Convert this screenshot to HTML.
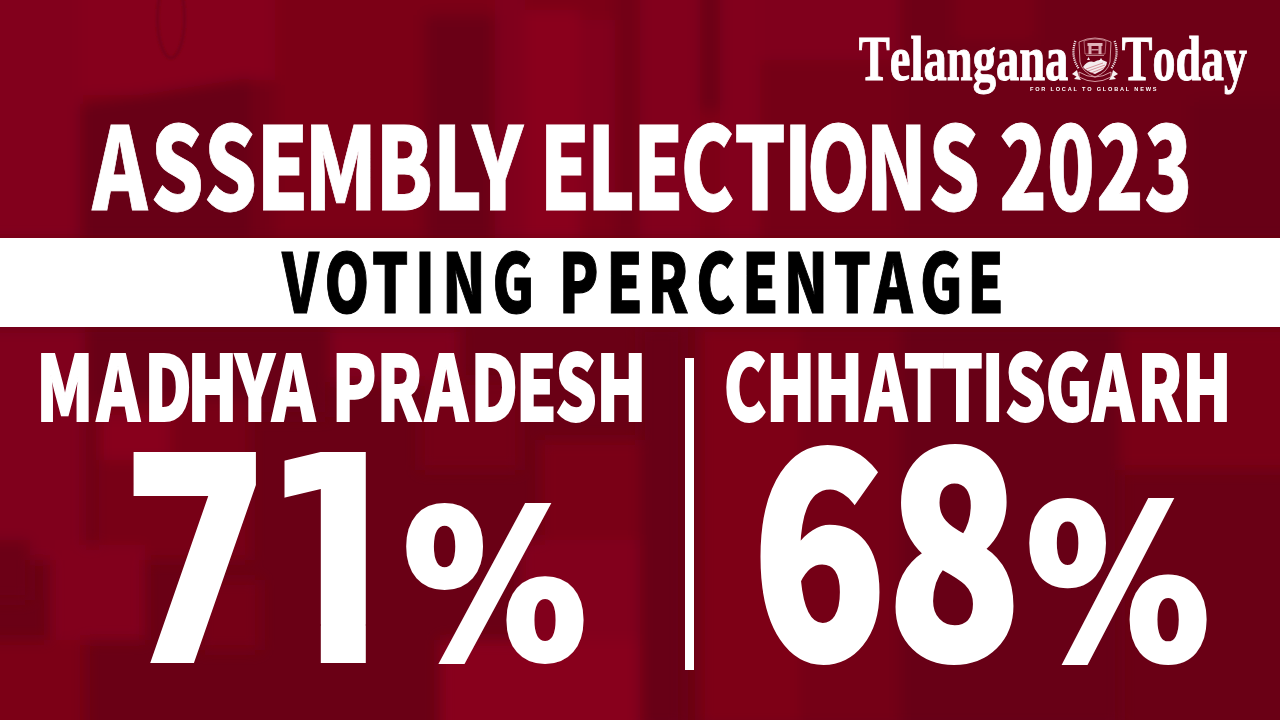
<!DOCTYPE html>
<html><head><meta charset="utf-8"><title>Assembly Elections 2023 - Voting Percentage</title>
<style>
html,body{margin:0;padding:0;background:#700012;}
body{width:1280px;height:720px;overflow:hidden;}
svg{display:block}
text{font-kerning:none;}
</style></head>
<body>
<svg width="1280" height="720" viewBox="0 0 1280 720">
<defs><filter id="bl" x="-5%" y="-5%" width="110%" height="110%"><feGaussianBlur stdDeviation="7"/></filter></defs>
<rect width="1280" height="720" fill="#6a0015"/>
<g filter="url(#bl)">
<rect x="-20" y="-20" width="940" height="260" fill="#7c0019"/>
<rect x="900" y="-20" width="400" height="260" fill="#6e0016"/>
<rect x="-20" y="-20" width="103" height="260" fill="#82001a"/>
<rect x="80" y="-20" width="195" height="115" fill="#86001b"/>
<path d="M80 105 L250 78 L250 240 L80 240 Z" fill="#680015"/>
<rect x="250" y="80" width="25" height="160" fill="#720017"/>
<rect x="275" y="20" width="150" height="220" fill="#7c0019"/>
<rect x="425" y="15" width="70" height="225" fill="#6a0015"/>
<rect x="495" y="-20" width="30" height="260" fill="#80001a"/>
<rect x="525" y="10" width="55" height="230" fill="#8a001c"/>
<rect x="580" y="20" width="35" height="180" fill="#82001a"/>
<rect x="615" y="-20" width="25" height="260" fill="#720017"/>
<rect x="640" y="-20" width="60" height="260" fill="#82001a"/>
<rect x="700" y="-20" width="20" height="130" fill="#6a0015"/>
<rect x="720" y="-20" width="40" height="260" fill="#82001a"/>
<rect x="760" y="-20" width="140" height="80" fill="#80001a"/>
<rect x="760" y="60" width="140" height="180" fill="#740017"/>
<rect x="955" y="-20" width="80" height="60" fill="#780018"/>
<rect x="1190" y="100" width="110" height="140" fill="#680015"/>
<rect x="-20" y="327" width="105" height="233" fill="#80001a"/>
<rect x="85" y="327" width="245" height="90" fill="#690015"/>
<rect x="95" y="400" width="155" height="160" fill="#780018"/>
<rect x="100" y="415" width="70" height="45" fill="#88001b"/>
<rect x="-20" y="540" width="50" height="60" fill="#6c0016"/>
<rect x="50" y="545" width="95" height="95" fill="#82001a"/>
<rect x="-20" y="640" width="105" height="100" fill="#7c0019"/>
<rect x="200" y="580" width="60" height="70" fill="#760018"/>
<rect x="330" y="327" width="130" height="55" fill="#80001a"/>
<rect x="420" y="380" width="100" height="90" fill="#740017"/>
<rect x="540" y="440" width="100" height="120" fill="#7a0018"/>
<rect x="520" y="540" width="120" height="100" fill="#82001a"/>
<rect x="440" y="640" width="200" height="100" fill="#88001b"/>
<rect x="640" y="327" width="43" height="400" fill="#680015"/>
<rect x="700" y="327" width="100" height="400" fill="#7e0019"/>
<rect x="800" y="327" width="100" height="400" fill="#740017"/>
<rect x="900" y="327" width="220" height="400" fill="#680015"/>
<rect x="1120" y="327" width="180" height="143" fill="#7a0018"/>
</g>
<filter id="bl2"><feGaussianBlur stdDeviation="1"/></filter>
<ellipse cx="171" cy="18" rx="13.5" ry="40" fill="none" stroke="#74001a" stroke-width="3" filter="url(#bl2)"/>

<rect x="0" y="238" width="1280" height="89" fill="#ffffff"/>
<rect x="685" y="358" width="9" height="312" fill="#ffffff"/>
<g fill="#ffffff">
<text x="858.8" y="79.6" textLength="209.6" lengthAdjust="spacingAndGlyphs" stroke="#fff" stroke-width="1" style="font-family:'Liberation Serif',serif;font-weight:700;font-size:63px">Telangana</text>
<text x="1121.8" y="79.6" textLength="125.2" lengthAdjust="spacingAndGlyphs" stroke="#fff" stroke-width="1" style="font-family:'Liberation Serif',serif;font-weight:700;font-size:63px">Today</text>
<text x="1030" y="91" textLength="126.5" lengthAdjust="spacing" style="font-family:'Liberation Sans',sans-serif;font-weight:700;font-size:5.6px">FOR LOCAL TO GLOBAL NEWS</text>
</g>
<g transform="translate(1068 34)">
  <!-- laurel dotted arcs -->
  <path d="M7.5 7 Q2 22 11 35" fill="none" stroke="#fff" stroke-width="2.2" stroke-dasharray="1.2 0.9" opacity="0.9"/>
  <path d="M46.5 7 Q52 22 43 35" fill="none" stroke="#fff" stroke-width="2.2" stroke-dasharray="1.2 0.9" opacity="0.9"/>
  <!-- shield -->
  <path d="M11 8 Q19 4 27 4 Q35 4 43 8 L42 28 Q40 38 27 43 Q14 38 12 28 Z" fill="none" stroke="#f2c8cc" stroke-width="0.9" opacity="0.8"/>
  <path d="M16 7 Q21 5 27 5 Q33 5 38 7 L37 20 L17 20 Z" fill="none" stroke="#f2c8cc" stroke-width="0.7" opacity="0.7"/>
  <!-- building -->
  <rect x="19.5" y="9" width="15" height="3" fill="#f4d2d6" opacity="0.85"/>
  <rect x="20.5" y="12" width="3" height="8" fill="#f4d2d6" opacity="0.8"/>
  <rect x="30.5" y="12" width="3" height="8" fill="#f4d2d6" opacity="0.8"/>
  <rect x="23.5" y="15" width="7" height="1.5" fill="#f4d2d6" opacity="0.7"/>
  <rect x="18" y="21" width="18" height="1" fill="#f4d2d6" opacity="0.6"/>
  <!-- field -->
  <path d="M15 33 Q20 26 26 28 Q32 24 39 28 Q39 35 27 40 Q18 37 15 33 Z" fill="#ffffff" opacity="0.92"/>
  <path d="M18 35 L35 29 M20 37 L37 31 M23 39 L38 33" stroke="#b0202e" stroke-width="0.6" opacity="0.7"/>
  <path d="M19 26 l1.5 -3 l1.5 3 Z M31 27 l2 -3 l2 3 Z" fill="#fff" opacity="0.9"/>
  <!-- ribbon -->
  <path d="M11 38 Q27 48 43 38 L43 43 Q27 52 11 43 Z" fill="none" stroke="#f2c8cc" stroke-width="0.9" opacity="0.85"/>
  <!-- leaves -->
  <path d="M4 40 L11 44 L9 36 Z M6 45 L13 46 L10 41 Z" fill="#fff" opacity="0.95"/>
  <path d="M50 40 L43 44 L45 36 Z M48 45 L41 46 L44 41 Z" fill="#fff" opacity="0.95"/>
</g>

<text transform="translate(0 209.60) scale(0.7268 1)" x="127.15 207.48 280.60 352.66 418.47 516.25 595.47 650.14" y="0" style="font-family:'Noto Sans CJK JP','Noto Sans CJK SC','Liberation Sans',sans-serif;font-weight:900;font-size:114.36px" fill="#ffffff" stroke="#ffffff" stroke-width="0.8" stroke-linejoin="miter" vector-effect="non-scaling-stroke">ASSEMBLY</text>
<text transform="translate(0 209.60) scale(0.7044 1)" x="765.96 833.34 898.56 966.20 1042.24 1112.50 1145.33 1228.85 1318.01" y="0" style="font-family:'Noto Sans CJK JP','Noto Sans CJK SC','Liberation Sans',sans-serif;font-weight:900;font-size:114.36px" fill="#ffffff" stroke="#ffffff" stroke-width="0.8" stroke-linejoin="miter" vector-effect="non-scaling-stroke">ELECTIONS</text>
<text transform="translate(0 209.60) scale(0.6852 1)" x="1458.17 1528.00 1599.67 1670.46" y="0" style="font-family:'Noto Sans CJK JP','Noto Sans CJK SC','Liberation Sans',sans-serif;font-weight:900;font-size:114.36px" fill="#ffffff" stroke="#ffffff" stroke-width="0.8" stroke-linejoin="miter" vector-effect="non-scaling-stroke">2023</text>
<text transform="translate(0 312.50) scale(0.6944 1)" x="406.37 467.42 535.61 597.56 636.93 709.22" y="0" style="font-family:'Noto Sans CJK JP','Noto Sans CJK SC','Liberation Sans',sans-serif;font-weight:900;font-size:81.88px" fill="#000000" stroke="#000000" stroke-width="1.0" stroke-linejoin="miter" vector-effect="non-scaling-stroke">VOTING</text>
<text transform="translate(0 312.50) scale(0.7084 1)" x="788.83 855.79 913.95 982.93 1047.36 1106.40 1176.87 1234.21 1298.84 1365.28" y="0" style="font-family:'Noto Sans CJK JP','Noto Sans CJK SC','Liberation Sans',sans-serif;font-weight:900;font-size:81.88px" fill="#000000" stroke="#000000" stroke-width="1.0" stroke-linejoin="miter" vector-effect="non-scaling-stroke">PERCENTAGE</text>
<text transform="translate(0 421.20) scale(0.7217 1)" x="50.28 134.07 199.80 259.50 325.79 376.97" y="0" style="font-family:'Noto Sans CJK JP','Noto Sans CJK SC','Liberation Sans',sans-serif;font-weight:900;font-size:90.47px" fill="#ffffff" stroke="#ffffff" stroke-width="1.6" stroke-linejoin="miter" vector-effect="non-scaling-stroke">MADHYA</text>
<text transform="translate(0 421.20) scale(0.7197 1)" x="461.04 522.98 590.60 653.67 716.70 771.64 828.59" y="0" style="font-family:'Noto Sans CJK JP','Noto Sans CJK SC','Liberation Sans',sans-serif;font-weight:900;font-size:90.47px" fill="#ffffff" stroke="#ffffff" stroke-width="1.6" stroke-linejoin="miter" vector-effect="non-scaling-stroke">PRADESH</text>
<text transform="translate(0 421.20) scale(0.7054 1)" x="1025.86 1085.92 1153.69 1226.19 1281.32 1335.48 1391.51 1424.76 1482.24 1548.15 1612.25 1675.91" y="0" style="font-family:'Noto Sans CJK JP','Noto Sans CJK SC','Liberation Sans',sans-serif;font-weight:900;font-size:90.47px" fill="#ffffff" stroke="#ffffff" stroke-width="1.6" stroke-linejoin="miter" vector-effect="non-scaling-stroke">CHHATTISGARH</text>

<text x="121.07" y="660.5" textLength="150.10" lengthAdjust="spacingAndGlyphs" style="font-family:'DejaVu Sans',sans-serif;font-weight:700;font-size:282.58px" fill="#ffffff" stroke="#ffffff" stroke-width="5" stroke-linejoin="miter">7</text>
<clipPath id="c1" clipPathUnits="userSpaceOnUse"><rect x="284.5" y="440" width="81.5" height="184.5"/><rect x="320.8" y="600" width="45" height="70"/></clipPath>
<text x="249.10" y="663" textLength="176.17" lengthAdjust="spacingAndGlyphs" clip-path="url(#c1)" style="font-family:'DejaVu Sans',sans-serif;font-weight:700;font-size:289.44px" fill="#fff">1</text>
<text x="752.39" y="658.6" textLength="133.90" lengthAdjust="spacingAndGlyphs" style="font-family:'Noto Sans CJK JP','Noto Sans CJK SC','Liberation Sans',sans-serif;font-weight:900;font-size:278.5px;font-feature-settings:'locl' 0" fill="#ffffff" stroke="#ffffff" stroke-width="5" stroke-linejoin="miter">6</text>
<text x="886.87" y="658.58" textLength="134.81" lengthAdjust="spacingAndGlyphs" style="font-family:'Noto Sans CJK JP','Noto Sans CJK SC','Liberation Sans',sans-serif;font-weight:900;font-size:279.79px;font-feature-settings:'locl' 0" fill="#ffffff" stroke="#ffffff" stroke-width="5" stroke-linejoin="miter">8</text>
<text x="403.09" y="658.1" textLength="183.73" lengthAdjust="spacingAndGlyphs" style="font-family:'DejaVu Sans',sans-serif;font-weight:700;font-size:204.93px" fill="#ffffff" stroke="#ffffff" stroke-width="6" stroke-linejoin="miter">%</text>
<text x="1026.09" y="659.0" textLength="183.72" lengthAdjust="spacingAndGlyphs" style="font-family:'DejaVu Sans',sans-serif;font-weight:700;font-size:211.54px" fill="#ffffff" stroke="#ffffff" stroke-width="6" stroke-linejoin="miter">%</text>
</svg>
</body></html>
